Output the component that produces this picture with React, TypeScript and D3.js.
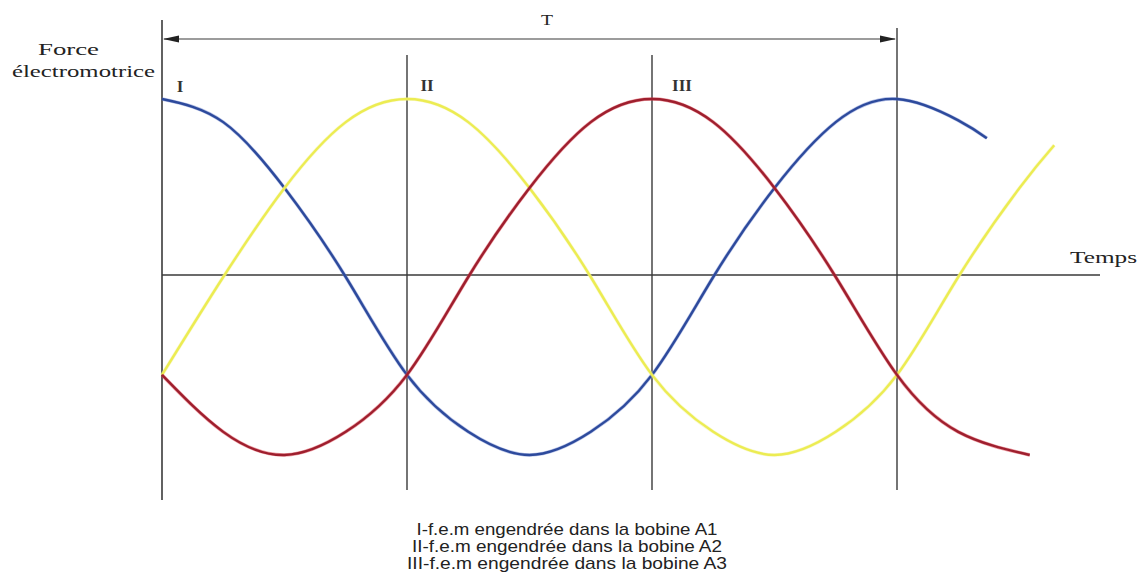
import React from "react";
import * as d3 from "d3";

// Angles in electrical degrees
const blueAngles = [0, 30, 60, 90, 120, 150, 180, 210, 240, 270, 300, 330, 360, 390, 404];
const blueValues = [1, 0.87, 0.5, 0, -0.55, -0.87, -1, -0.87, -0.55, 0, 0.5, 0.87, 1, 0.88, 0.78];

const yellowAngles = [0, 30, 60, 90, 120, 150, 180, 210, 240, 270, 300, 330, 360, 390, 420, 437];
const yellowValues = [-0.55, 0, 0.5, 0.87, 1, 0.87, 0.5, 0, -0.55, -0.87, -1, -0.87, -0.55, 0, 0.5, 0.74];

const redAngles = [0, 30, 60, 90, 120, 150, 180, 210, 240, 270, 300, 330, 360, 390, 425];
const redValues = [-0.55, -0.87, -1, -0.87, -0.55, 0, 0.5, 0.87, 1, 0.87, 0.5, 0, -0.55, -0.87, -1];

const phaseMarkers = [0, 120, 240, 360];
const phaseLabels = ["I", "II", "III"];
const legendLines = [
  "I-f.e.m engendrée dans la bobine A1",
  "II-f.e.m engendrée dans la bobine A2",
  "III-f.e.m engendrée dans la bobine A3",
];
const legendWidths = [301, 310, 320];

const W = 1142;
const H = 584;

export default function App() {
  const x = d3.scaleLinear().domain([0, 360]).range([162, 897]);
  const y = d3.scaleLinear().domain([-1, 1]).range([455, 99]);

  const line = d3
    .line<[number, number]>()
    .x((d) => x(d[0]))
    .y((d) => y(d[1]))
    .curve(d3.curveNatural);

  const series = [
    { a: blueAngles, v: blueValues, color: "#2d4a9c", halo: "#6f86d0" },
    { a: yellowAngles, v: yellowValues, color: "#ecec52", halo: "#f4f4a0" },
    { a: redAngles, v: redValues, color: "#9e1f2e", halo: "#e0404c" },
  ];

  const axisColor = "#3a3a3a";
  const y0 = y(0);
  const serif = "'Liberation Serif', 'DejaVu Serif', serif";
  const sans = "'Liberation Sans', Arial, sans-serif";

  return (
    <svg
      width={W}
      height={H}
      style={{ position: "absolute", left: 0, top: 0, background: "#fff" }}
    >
      {/* Vertical axis */}
      <line x1={x(0)} x2={x(0)} y1={20} y2={500} stroke={axisColor} strokeWidth={1.6} />
      {/* Horizontal time axis */}
      <line x1={x(0)} x2={1100} y1={y0 - 2} y2={y0 - 2} stroke={axisColor} strokeWidth={1.4} />
      {/* Phase marker lines */}
      {phaseMarkers.slice(1).map((m, i) => (
        <line
          key={m}
          x1={x(m)}
          x2={x(m)}
          y1={i === 2 ? 28 : 55}
          y2={490}
          stroke={axisColor}
          strokeWidth={1.4}
        />
      ))}
      {/* T arrow */}
      <line x1={x(0) + 2} x2={x(360) - 2} y1={39} y2={39} stroke={axisColor} strokeWidth={1.2} />
      <path d={`M${x(0) + 1},39 L${x(0) + 17},35.5 L${x(0) + 17},42.5 Z`} fill="#222" />
      <path d={`M${x(360) - 1},39 L${x(360) - 17},35.5 L${x(360) - 17},42.5 Z`} fill="#222" />
      <text
        x={547}
        y={25}
        fontFamily={serif}
        fontSize={15}
        textAnchor="middle"
        fill="#222"
        textLength={12}
        lengthAdjust="spacingAndGlyphs"
      >
        T
      </text>

      {/* Curves */}
      {series.map((s, i) => {
        const pts = s.a.map((a, k) => [a, s.v[k]] as [number, number]);
        const d = line(pts) || "";
        return (
          <g key={i}>
            <path d={d} fill="none" stroke={s.halo} strokeWidth={3.6} strokeOpacity={0.5} />
            <path d={d} fill="none" stroke={s.color} strokeWidth={2.4} />
          </g>
        );
      })}

      {/* Phase labels */}
      {phaseLabels.map((l, i) => (
        <text
          key={l}
          x={x(phaseMarkers[i]) + (i === 0 ? 18 : i === 1 ? 20 : 30)}
          y={i === 0 ? 92 : 91}
          fontFamily={serif}
          fontSize={17}
          fontWeight="bold"
          textAnchor="middle"
          fill="#333"
        >
          {l}
        </text>
      ))}

      {/* Axis titles */}
      <text
        x={38}
        y={55}
        fontFamily={serif}
        fontSize={16}
        fill="#222"
        textLength={61}
        lengthAdjust="spacingAndGlyphs"
      >
        Force
      </text>
      <text
        x={12}
        y={77}
        fontFamily={serif}
        fontSize={16}
        fill="#222"
        textLength={143}
        lengthAdjust="spacingAndGlyphs"
      >
        électromotrice
      </text>
      <text
        x={1070}
        y={263}
        fontFamily={serif}
        fontSize={16}
        fill="#222"
        textLength={67}
        lengthAdjust="spacingAndGlyphs"
      >
        Temps
      </text>

      {/* Legend */}
      {legendLines.map((t, i) => (
        <text
          key={t}
          x={567}
          y={535 + i * 17}
          fontFamily={sans}
          fontSize={17}
          textAnchor="middle"
          fill="#222"
          textLength={legendWidths[i]}
          lengthAdjust="spacingAndGlyphs"
        >
          {t}
        </text>
      ))}
    </svg>
  );
}
